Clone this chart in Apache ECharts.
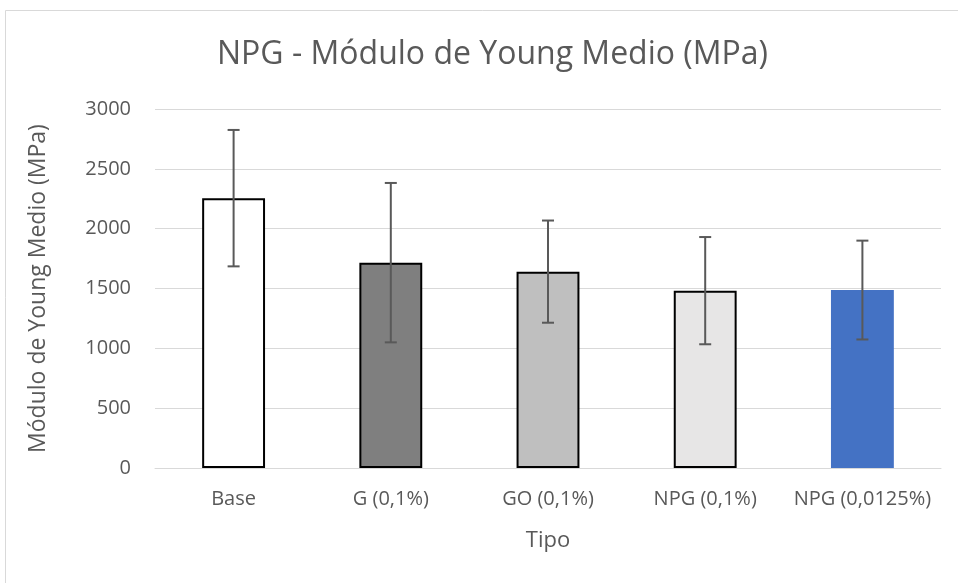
<!DOCTYPE html>
<html>
<head>
<meta charset="utf-8">
<script src="https://cdn.jsdelivr.net/npm/echarts@6/dist/echarts.min.js"></script>
<style>
  html, body { margin: 0; padding: 0; background: #fff; }
  #chart { width: 958px; height: 583px; }
</style>
</head>
<body>
<div id="chart"></div>
<script>
// datos
const categories = ['Base', 'G (0,1%)', 'GO (0,1%)', 'NPG (0,1%)', 'NPG (0,0125%)']
const youngMedio = [2255, 1716, 1641, 1482, 1487]
const desviacion = [570, 666, 427, 448, 413]
const yTicks = [0, 500, 1000, 1500, 2000, 2500, 3000]

const barColors = ['#ffffff', '#7f7f7f', '#bfbfbf', '#e7e6e6', '#4472c4']
const barBorders = ['#000000', '#000000', '#000000', '#000000', 'transparent']

const myChart = echarts.init(document.getElementById('chart'))
const fontFamily = 'Open Sans'

const errorData = youngMedio.map((v, i) => [i, v - desviacion[i], v + desviacion[i]])

const option = {
  animation: false,
  backgroundColor: '#fff',
  title: {
    text: 'NPG - Módulo de Young Medio (MPa)',
    left: 212,
    top: 34,
    textStyle: { color: '#595959', fontSize: 32, fontWeight: 'normal', fontFamily: fontFamily }
  },
  graphic: [
    {
      type: 'rect',
      shape: { x: 5.5, y: 10.5, width: 960, height: 580 },
      style: { fill: 'none', stroke: '#d9d9d9', lineWidth: 1 },
      silent: true
    }
  ],
  grid: { left: 155, right: 17, top: 109, bottom: 115 },
  xAxis: {
    type: 'category',
    data: categories,
    name: 'Tipo',
    nameLocation: 'middle',
    nameGap: 62,
    nameTextStyle: { color: '#595959', fontSize: 22, fontFamily: fontFamily },
    axisLine: { lineStyle: { color: '#d9d9d9', width: 1 } },
    axisTick: { show: false },
    axisLabel: { color: '#595959', fontSize: 20, margin: 21, interval: 0, fontFamily: fontFamily }
  },
  yAxis: {
    type: 'value',
    min: yTicks[0],
    max: yTicks[yTicks.length - 1],
    interval: 500,
    name: 'Módulo de Young Medio (MPa)',
    nameLocation: 'middle',
    nameGap: 105,
    nameTextStyle: { color: '#595959', fontSize: 23, fontFamily: fontFamily },
    axisLine: { show: false },
    axisTick: { show: false },
    axisLabel: {
      color: '#595959',
      fontSize: 20,
      margin: 24,
      fontFamily: fontFamily,
      formatter: function(v) { return String(v) }
    },
    splitLine: { lineStyle: { color: '#d9d9d9', width: 1 } }
  },
  series: [
    {
      type: 'bar',
      barWidth: '40%',
      data: youngMedio.map((v, i) => ({
        value: v,
        itemStyle: {
          color: barColors[i],
          borderColor: barBorders[i],
          borderWidth: barBorders[i] === 'transparent' ? 0 : 2
        }
      })),
      z: 2
    },
    {
      type: 'custom',
      data: errorData,
      encode: { x: 0, y: [1, 2] },
      z: 5,
      renderItem: function(params, api) {
        const x = api.value(0)
        const low = api.coord([x, api.value(1)])
        const high = api.coord([x, api.value(2)])
        const cap = 6
        const style = { stroke: '#595959', lineWidth: 2 }
        return {
          type: 'group',
          children: [
            { type: 'line', shape: { x1: high[0], y1: high[1], x2: low[0], y2: low[1] }, style: style },
            { type: 'line', shape: { x1: high[0] - cap, y1: high[1], x2: high[0] + cap, y2: high[1] }, style: style },
            { type: 'line', shape: { x1: low[0] - cap, y1: low[1], x2: low[0] + cap, y2: low[1] }, style: style }
          ]
        }
      }
    }
  ]
}

myChart.setOption(option)
window.addEventListener('resize', function() {
  myChart.resize()
})
</script>
</body>
</html>
